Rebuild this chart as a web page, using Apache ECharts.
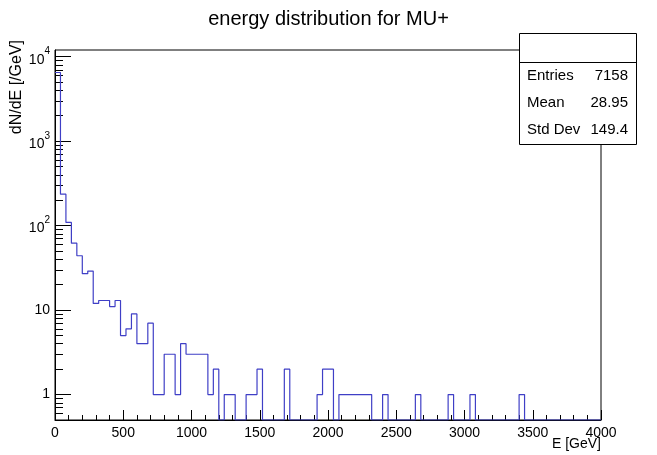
<!DOCTYPE html>
<html>
<head>
<meta charset="utf-8">
<script src="https://cdn.jsdelivr.net/npm/echarts@6/dist/echarts.min.js"></script>
<style>
html,body{margin:0;padding:0;background:#fff;}
#chart{width:657px;height:455px;}
</style>
</head>
<body>
<div id="chart"></div>
<script>
// ---- data ----
const titleText = 'energy distribution for MU+';
const xTitle = 'E [GeV]';
const yTitle = 'dN/dE [/GeV]';
const binWidth = 40; // GeV
const counts = [
  6502, 236, 109, 62, 44, 27, 29, 12, 13, 13,
  11, 13, 5, 6, 9, 4, 4, 7, 1, 1,
  3, 3, 1, 4, 3, 3, 3, 3, 1, 2,
  0, 1, 1, 0, 0, 1, 1, 2, 0, 0,
  0, 0, 2, 0, 0, 0, 0, 0, 1, 2,
  2, 0, 1, 1, 1, 1, 1, 1, 0, 0,
  1, 0, 0, 0, 0, 0, 1, 0, 0, 0,
  0, 0, 1, 0, 0, 0, 1, 0, 0, 0,
  0, 0, 0, 0, 0, 1, 0, 0, 0, 0,
  0, 0, 0, 0, 0, 0, 0, 0, 0, 0
];
const xMin = 0, xMax = 4000, xInterval = 500;
const yMin = 0.5, yMax = 12000;
const yMajorTicks = [1, 10, 100, 1000, 10000];
const yMinorTicks = [0.6, 0.7, 0.8, 0.9,
  2, 3, 4, 5, 6, 7, 8, 9,
  20, 30, 40, 50, 60, 70, 80, 90,
  200, 300, 400, 500, 600, 700, 800, 900,
  2000, 3000, 4000, 5000, 6000, 7000, 8000, 9000];
const statNames = ['Entries', 'Mean', 'Std Dev'];
const statValues = ['7158', '28.95', '149.4'];

// ---- build ----
const FONT = 'Liberation Sans, Arial, Helvetica, sans-serif';
const lineColor = '#3f3fc6';

const stepData = counts.map((c, i) => [i * binWidth, c > 0 ? c : yMin]);
const lastC = counts[counts.length - 1];
stepData.push([counts.length * binWidth, lastC > 0 ? lastC : yMin]);

function yFmt(v) {
  const e = Math.round(Math.log10(v));
  if (e <= 1) return String(Math.round(v));
  return '{b|10}{s|' + e + '}';
}

// stats box graphics
const box = {x: 519, y: 33, w: 117, h: 111, head: 29};
const rowH = (box.h - box.head) / statNames.length;
const statEls = [
  {type: 'rect', shape: {x: box.x + 0.5, y: box.y + 0.5, width: box.w, height: box.h},
   style: {fill: '#fff', stroke: '#000', lineWidth: 1}, z: 100},
  {type: 'line', shape: {x1: box.x, y1: box.y + box.head + 0.5, x2: box.x + box.w, y2: box.y + box.head + 0.5},
   style: {stroke: '#000', lineWidth: 1}, z: 101}
];
statNames.forEach((n, i) => {
  const cy = box.y + box.head + rowH * (i + 0.5);
  statEls.push({type: 'text', x: box.x + 8, y: cy, z: 102,
    style: {text: n, font: '15px ' + FONT, fill: '#000', align: 'left', verticalAlign: 'middle'}});
  statEls.push({type: 'text', x: box.x + box.w - 8, y: cy, z: 102,
    style: {text: statValues[i], font: '15px ' + FONT, fill: '#000', align: 'right', verticalAlign: 'middle'}});
});

const chart = echarts.init(document.getElementById('chart'), null, {renderer: 'canvas'});
chart.setOption({
  animation: false,
  backgroundColor: '#fff',
  textStyle: {fontFamily: FONT},
  title: {
    text: titleText, left: 'center', top: 4,
    textStyle: {fontFamily: FONT, fontSize: 20, fontWeight: 'normal', color: '#000'}
  },
  grid: {left: 55, right: 56, top: 50, bottom: 35, show: true,
    borderColor: '#000', borderWidth: 1, backgroundColor: 'transparent'},
  xAxis: {
    type: 'value', min: xMin, max: xMax, interval: xInterval,
    axisLine: {show: true, onZero: false, lineStyle: {color: '#000', width: 1}},
    axisTick: {show: true, inside: true, length: 10, lineStyle: {color: '#000'}},
    minorTick: {show: true, splitNumber: 5, length: 5, lineStyle: {color: '#000'}},
    axisLabel: {fontFamily: FONT, fontSize: 14, color: '#000', margin: 6,
      showMinLabel: true, showMaxLabel: true, formatter: v => String(v)},
    splitLine: {show: false}
  },
  yAxis: [{
    type: 'log', logBase: 10, min: yMin, max: yMax, position: 'left',
    axisLine: {show: true, lineStyle: {color: '#000', width: 1}},
    axisTick: {show: true, inside: true, length: 16, customValues: yMajorTicks, lineStyle: {color: '#000'}},
    axisLabel: {customValues: yMajorTicks, formatter: yFmt, color: '#000', margin: 5,
      fontFamily: FONT, fontSize: 14, hideOverlap: false,
      rich: {
        b: {fontFamily: FONT, fontSize: 14, color: '#000', verticalAlign: 'bottom', lineHeight: 20},
        s: {fontFamily: FONT, fontSize: 10, color: '#000', verticalAlign: 'top', lineHeight: 10}
      }},
    splitLine: {show: false}
  }, {
    type: 'log', logBase: 10, min: yMin, max: yMax, position: 'left',
    axisLine: {show: false},
    axisTick: {show: true, inside: true, length: 8, customValues: yMinorTicks, lineStyle: {color: '#000'}},
    axisLabel: {show: false},
    splitLine: {show: false}
  }],
  series: [{
    type: 'line', step: 'end', data: stepData, yAxisIndex: 0,
    showSymbol: false, symbol: 'none', clip: true,
    lineStyle: {color: lineColor, width: 1.2}
  }],
  graphic: [
    {type: 'text', x: 601, y: 437, style: {text: xTitle, font: '14px ' + FONT, fill: '#000', align: 'right', verticalAlign: 'top'}},
    {type: 'text', x: 17, y: 40, rotation: Math.PI / 2,
      style: {text: yTitle, font: '16px ' + FONT, fill: '#000', align: 'right', verticalAlign: 'middle'}}
  ].concat(statEls)
});
</script>
</body>
</html>
